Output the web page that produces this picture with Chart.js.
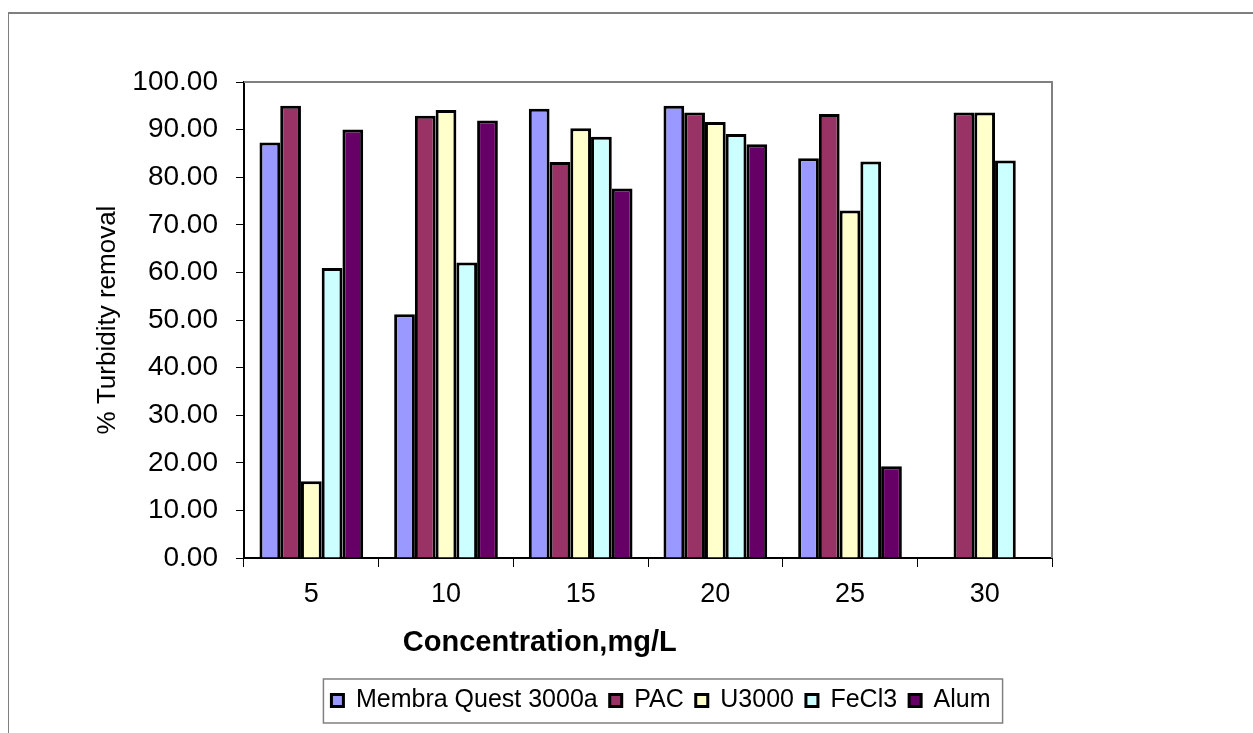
<!DOCTYPE html>
<html><head><meta charset="utf-8">
<script src="https://cdn.jsdelivr.net/npm/chart.js@4.4.0/dist/chart.umd.min.js"></script>
<style>
html,body{margin:0;padding:0;background:#fff;}
#wrap{position:relative;width:1253px;height:733px;overflow:hidden;background:#fff;}
#frame{position:absolute;left:8px;top:12px;width:1300px;height:800px;border-top:2px solid #7f7f7f;border-left:1px solid #7f7f7f;pointer-events:none;}
canvas{position:absolute;left:0;top:0;}
</style></head><body>
<div id="wrap"><div id="frame"></div><canvas id="c" width="1253" height="733"></canvas></div>
<script>
// ---- data ----
const categories = ['5', '10', '15', '20', '25', '30'];
const membraQuest = [87.3, 51.2, 94.4, 95.0, 84.0, null];
const pac         = [95.0, 92.9, 83.2, 93.6, 93.3, 93.6];
const u3000       = [16.1, 94.1, 90.3, 91.6, 73.0, 93.6];
const fecl3       = [60.9, 62.1, 88.5, 89.1, 83.3, 83.5];
const alum        = [90.0, 91.9, 77.6, 86.9, 19.3, null];
const seriesNames = ['Membra Quest 3000a', 'PAC', 'U3000', 'FeCl3', 'Alum'];
const yMin = 0, yMax = 100, yStep = 10;
const xTitle = 'Concentration,mg/L';
const yTitle = '% Turbidity removal';

const FONT = "'Liberation Sans', Arial, sans-serif";
Chart.defaults.font.family = FONT;
Chart.defaults.color = '#000';

const colors = ['#9999FF', '#993366', '#FFFFCC', '#CCFFFF', '#660066'];
const seriesData = [membraQuest, pac, u3000, fecl3, alum];

const decor = {
  id: 'decor',
  beforeDatasetsDraw(chart) {
    const {ctx, chartArea: a} = chart;
    ctx.save();
    ctx.strokeStyle = '#808080';
    ctx.lineWidth = 2;
    ctx.beginPath();
    ctx.moveTo(a.left, a.top);
    ctx.lineTo(a.right, a.top);
    ctx.lineTo(a.right, a.bottom);
    ctx.stroke();
    ctx.restore();
  },
  afterDraw(chart) {
    const {ctx, chartArea: a} = chart;
    const hb = chart.legend.legendHitBoxes;
    if (hb && hb.length) {
      const first = hb[0], last = hb[hb.length - 1];
      const x0 = first.left - 8, x1 = last.left + last.width + 12;
      const y0 = first.top - 9, y1 = first.top + first.height + 10;
      ctx.save();
      ctx.strokeStyle = '#808080';
      ctx.lineWidth = 1.5;
      ctx.strokeRect(x0, y0, x1 - x0, y1 - y0);
      ctx.restore();
    }
    ctx.save();
    ctx.font = 'bold 29px ' + FONT;
    ctx.fillStyle = '#000';
    ctx.textAlign = 'center';
    ctx.textBaseline = 'alphabetic';
    ctx.fillText(xTitle, a.left + (a.right - a.left) * 0.366, a.bottom + 93);
    ctx.restore();
  }
};

new Chart(document.getElementById('c'), {
  type: 'bar',
  data: {
    labels: categories,
    datasets: seriesNames.map((n, i) => ({
      label: n,
      data: seriesData[i],
      backgroundColor: colors[i],
      borderColor: '#000',
      borderWidth: 3,
      categoryPercentage: 0.77,
      barPercentage: 1.0
    }))
  },
  options: {
    responsive: false,
    animation: false,
    devicePixelRatio: 1,
    layout: {padding: {left: 69, right: 0, top: 82, bottom: 10}},
    plugins: {
      legend: {
        position: 'bottom',
        labels: {font: {size: 25}, boxWidth: 12, boxHeight: 12, padding: 12, color: '#000'}
      },
      tooltip: {enabled: false}
    },
    scales: {
      x: {
        grid: {display: true, drawOnChartArea: false, drawTicks: true, tickLength: 9, offset: true, color: '#000', lineWidth: 1},
        border: {display: true, color: '#000', width: 2},
        ticks: {font: {size: 27}, padding: 11, color: '#000', maxRotation: 0},
        afterFit(s) { s.height = 118; }
      },
      y: {
        min: yMin, max: yMax,
        grid: {display: true, drawOnChartArea: false, drawTicks: true, tickLength: 8, color: '#000', lineWidth: 1},
        border: {display: true, color: '#000', width: 2},
        ticks: {stepSize: yStep, font: {size: 28}, padding: 18, color: '#000', callback: v => Number(v).toFixed(2)},
        title: {display: true, text: yTitle, font: {size: 26}, color: '#000', padding: {top: 23, bottom: 0}},
        afterFit(s) { s.width = 175; }
      },
      yR: {
        position: 'right',
        display: true,
        grid: {display: false},
        border: {display: false},
        ticks: {display: false},
        afterFit(s) { s.width = 201; }
      }
    }
  },
  plugins: [decor]
});
</script>
</body></html>
